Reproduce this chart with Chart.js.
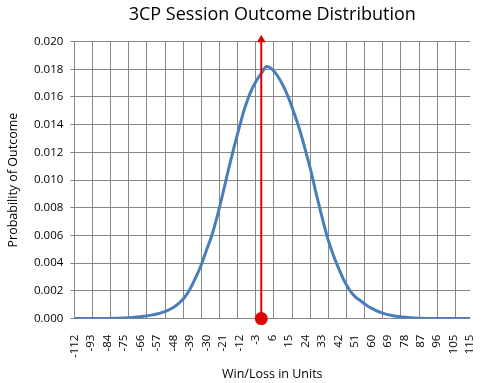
<!DOCTYPE html>
<html><head><meta charset="utf-8">
<script src="https://cdn.jsdelivr.net/npm/chart.js@4"></script>
<style>html,body{margin:0;padding:0;background:#fff}#wrap{width:492px;height:383px;position:relative}</style>
</head><body><div id="wrap"><canvas id="c"></canvas></div>
<script>
const chartTitle = '3CP Session Outcome Distribution';
const xTitle = 'Win/Loss in Units';
const yTitle = 'Probability of Outcome';
const tickLabels = ['-112','-93','-84','-75','-66','-57','-48','-39','-30','-21','-12','-3','6','15','24','33','42','51','60','69','78','87','96','105','115'];
const outcomeUnits = [-102,-93,-84,-75,-70,-66,-63,-60,-57,-54,-51,-48,-45,-42,-39,-36,-33,-30,-27,-24,-21,-18,-15,-12,-9,-6,-3,0,3,6,9,12,15,18,21,24,27,30,33,36,39,42,45,48,51,54,57,60,65,72,80,87,96,105,114];
const probabilities = [0,0,0.00001,0.00004,0.00008,0.00013,0.00019,0.00025,0.00033,0.00045,0.0006,0.0008,0.0011,0.0015,0.0021,0.0029,0.0038,0.0049,0.006,0.0074,0.009,0.0107,0.0123,0.0138,0.0152,0.0163,0.0171,0.0177,0.0182,0.018,0.0175,0.0168,0.0159,0.0148,0.0136,0.0122,0.0107,0.009,0.0074,0.0059,0.0047,0.0037,0.0028,0.0021,0.0016,0.0013,0.001,0.00075,0.00045,0.0002,0.00008,0.00003,0.00001,0,0];
const markerUnits = [0, 0];
const markerValues = [0, 0.02014];

const GRID = '#878787';
const FONT = 'Open Sans';
const X_MIN = -102, X_MAX = 114, LABEL_STEP = 9, GRID_STEP = 9.9;

new Chart(document.getElementById('c'), {
  type: 'line',
  data: {
    datasets: [
      {
        data: markerUnits.map((u, i) => ({x: u, y: markerValues[i]})),
        borderColor: '#e00000',
        backgroundColor: '#e00000',
        borderWidth: 2,
        pointStyle: ['circle', 'triangle'],
        pointRadius: [6.5, 5],
        pointBorderWidth: 0,
        pointBackgroundColor: '#e00000',
        clip: false,
        order: 0
      },
      {
        data: outcomeUnits.map((u, i) => ({x: u, y: probabilities[i]})),
        borderColor: '#4a7ebb',
        borderWidth: 3,
        pointRadius: 0,
        cubicInterpolationMode: 'monotone',
        order: 1
      }
    ]
  },
  options: {
    responsive: true,
    maintainAspectRatio: false,
    animation: false,
    layout: {padding: {left: 6, right: 6, top: 2, bottom: 1}},
    plugins: {
      legend: {display: false},
      tooltip: {enabled: false},
      title: {
        display: true, text: chartTitle, color: '#000', fullSize: false,
        font: {family: FONT, size: 18, weight: 'normal'},
        padding: {top: 2, bottom: 16}
      }
    },
    scales: {
      x: {
        type: 'linear', position: 'bottom', min: X_MIN, max: X_MAX,
        afterBuildTicks: (s) => { s.ticks = tickLabels.map((_, i) => ({value: X_MIN + LABEL_STEP * i})); },
        ticks: {
          autoSkip: false, minRotation: 90, maxRotation: 90, color: '#000',
          font: {family: FONT, size: 11.5}, padding: 8,
          callback: (v, i) => tickLabels[i]
        },
        grid: {display: false},
        border: {display: false},
        title: {display: true, text: xTitle, color: '#000', font: {family: FONT, size: 12.5}, padding: {top: 1, bottom: 0}}
      },
      xg: {
        type: 'linear', position: 'top', min: X_MIN, max: X_MAX,
        afterBuildTicks: (s) => { const t = []; for (let j = 0; X_MIN + GRID_STEP * j <= X_MAX + 0.01; j++) t.push({value: X_MIN + GRID_STEP * j}); s.ticks = t; },
        ticks: {display: false},
        grid: {color: GRID, lineWidth: 1, drawTicks: false},
        border: {display: false}
      },
      y: {
        min: 0, max: 0.02,
        ticks: {stepSize: 0.002, color: '#000', font: {family: FONT, size: 11.5}, padding: 7,
          callback: (v) => v.toFixed(3)},
        grid: {color: GRID, lineWidth: 1, tickLength: 4},
        border: {color: GRID},
        title: {display: true, text: yTitle, color: '#000', font: {family: FONT, size: 12.5}, padding: {top: 0, bottom: 6}}
      }
    }
  }
});
</script></body></html>
